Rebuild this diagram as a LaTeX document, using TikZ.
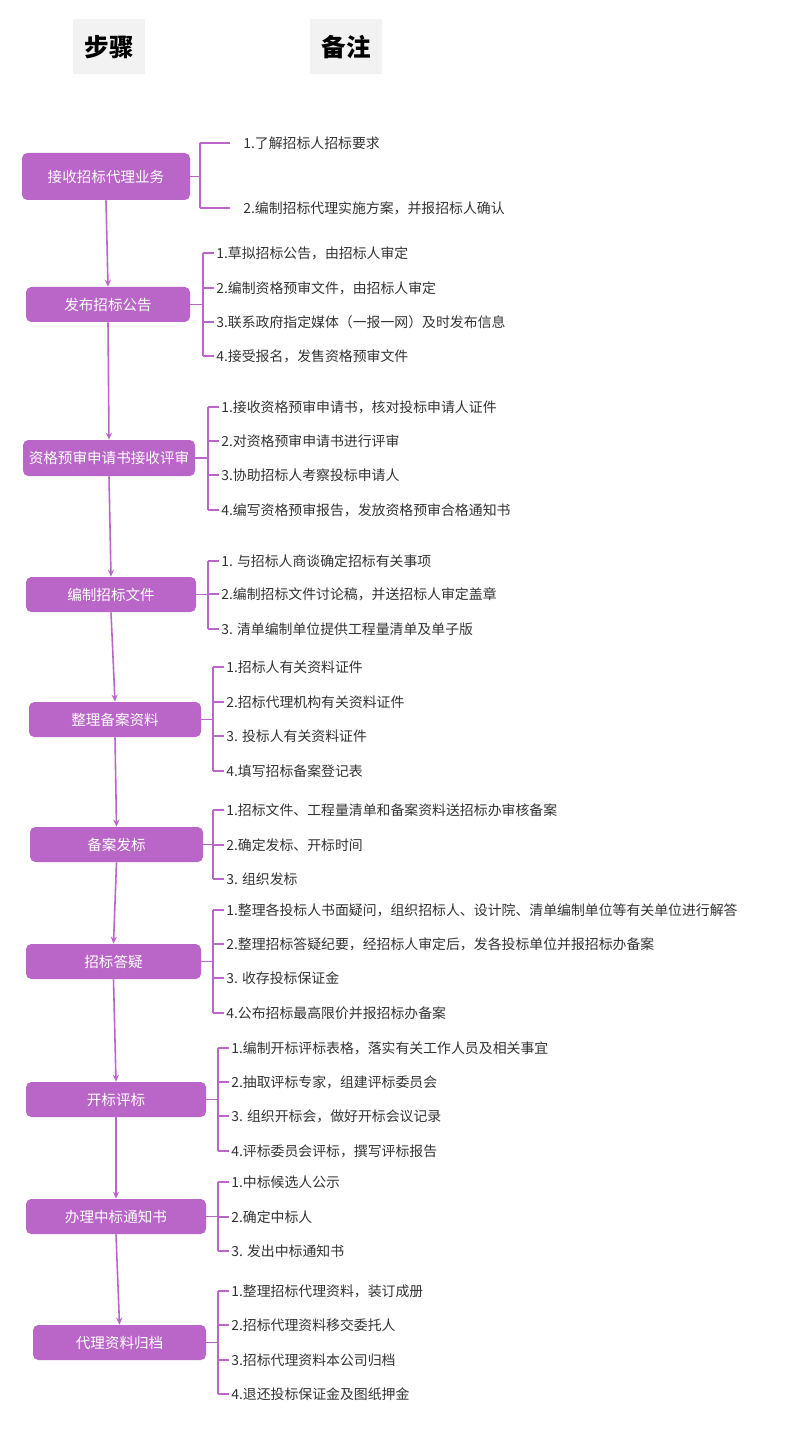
\documentclass[tikz,border=0pt]{standalone}
\usepackage{fontspec}
\setmainfont{Noto Sans CJK SC}
\usetikzlibrary{arrows.meta}
\definecolor{pur}{HTML}{B966C8}
\definecolor{txt}{HTML}{333333}
\newlength\pxu \setlength\pxu{0.02cm}
\tikzset{
 stepbox/.style={fill=pur,rounded corners=3pt,text=white,font=\fontsize{8.3pt}{9pt}\selectfont,inner sep=0pt},
 item/.style={anchor=west,text=txt,font=\fontsize{7.9pt}{9pt}\selectfont,inner sep=0pt},
 brk/.style={draw=pur,line width=1.1pt},
 flow/.style={draw=pur,line width=0.9pt,-{Stealth[length=4pt,width=3.5pt]}},
 head/.style={fill=black!5,font=\bfseries\fontsize{14pt}{16pt}\selectfont,minimum width=72\pxu,minimum height=55\pxu,inner sep=0pt}
}
\newcommand\stepb[6]{\node[stepbox,minimum width=#3\pxu-#2\pxu,minimum height=#5\pxu-#4\pxu] (#1) at ({(#2+#3)/2},{(#4+#5)/2}) {#6};}
\newcommand\grp[6]{\draw[brk] (#1.east) -| (#2,#5) -- (#2,#6);}
\newcommand\itm[6]{\coordinate (#1c) at (#3,#4);
  \node[item] (#1) at (#5,#4) {#6};
  \draw[brk] (#2,#4) -- (#1c);}
\begin{document}
\begin{tikzpicture}[x=0.02cm,y=-0.02cm]
\useasboundingbox (0,0) rectangle (800,1429);
\node[head] (h1) at (109,47) {步骤};
\node[head] (h2) at (346,47) {备注};
\stepb{b1}{22}{190}{153}{200}{接收招标代理业务}
\stepb{b2}{26}{190}{287}{322}{发布招标公告}
\stepb{b3}{23}{195}{440}{476}{资格预审申请书接收评审}
\stepb{b4}{26}{196}{577}{612}{编制招标文件}
\stepb{b5}{29}{201}{702}{737}{整理备案资料}
\stepb{b6}{30}{203}{827}{862}{备案发标}
\stepb{b7}{26}{201}{944}{979}{招标答疑}
\stepb{b8}{26}{206}{1082}{1117}{开标评标}
\stepb{b9}{26}{206}{1199}{1234}{办理中标通知书}
\stepb{b10}{33}{206}{1325}{1360}{代理资料归档}
\foreach \a/\b in {b1/b2,b2/b3,b3/b4,b4/b5,b5/b6,b6/b7,b7/b8,b8/b9,b9/b10}
  \draw[flow] (\a.south) -- (\b.north);
\grp{b1}{200}{}{}{143}{208}
\itm{i11}{200}{230}{143}{243}{1.了解招标人招标要求}
\itm{i12}{200}{230}{208}{243}{2.编制招标代理实施方案，并报招标人确认}
\grp{b2}{203}{}{}{253}{356}
\itm{i21}{203}{214}{253}{216}{1.草拟招标公告，由招标人审定}
\itm{i22}{203}{214}{288}{216}{2.编制资格预审文件，由招标人审定}
\itm{i23}{203}{214}{322}{216}{3.联系政府指定媒体（一报一网）及时发布信息}
\itm{i24}{203}{214}{356}{216}{4.接受报名，发售资格预审文件}
\grp{b3}{208}{}{}{407}{510}
\itm{i31}{208}{219}{407}{221}{1.接收资格预审申请书，核对投标申请人证件}
\itm{i32}{208}{219}{441}{221}{2.对资格预审申请书进行评审}
\itm{i33}{208}{219}{475}{221}{3.协助招标人考察投标申请人}
\itm{i34}{208}{219}{510}{221}{4.编写资格预审报告，发放资格预审合格通知书}
\grp{b4}{208}{}{}{561}{629}
\itm{i41}{208}{219}{561}{221}{1. 与招标人商谈确定招标有关事项}
\itm{i42}{208}{219}{594}{221}{2.编制招标文件讨论稿，并送招标人审定盖章}
\itm{i43}{208}{219}{629}{221}{3. 清单编制单位提供工程量清单及单子版}
\grp{b5}{213}{}{}{667}{771}
\itm{i51}{213}{224}{667}{226}{1.招标人有关资料证件}
\itm{i52}{213}{224}{702}{226}{2.招标代理机构有关资料证件}
\itm{i53}{213}{224}{736}{226}{3. 投标人有关资料证件}
\itm{i54}{213}{224}{771}{226}{4.填写招标备案登记表}
\grp{b6}{213}{}{}{810}{879}
\itm{i61}{213}{224}{810}{226}{1.招标文件、工程量清单和备案资料送招标办审核备案}
\itm{i62}{213}{224}{845}{226}{2.确定发标、开标时间}
\itm{i63}{213}{224}{879}{226}{3. 组织发标}
\grp{b7}{213}{}{}{910}{1013}
\itm{i71}{213}{224}{910}{226}{1.整理各投标人书面疑问，组织招标人、设计院、清单编制单位等有关单位进行解答}
\itm{i72}{213}{224}{944}{226}{2.整理招标答疑纪要，经招标人审定后，发各投标单位并报招标办备案}
\itm{i73}{213}{224}{978}{226}{3.  收存投标保证金}
\itm{i74}{213}{224}{1013}{226}{4.公布招标最高限价并报招标办备案}
\grp{b8}{218}{}{}{1048}{1151}
\itm{i81}{218}{229}{1048}{231}{1.编制开标评标表格，落实有关工作人员及相关事宜}
\itm{i82}{218}{229}{1082}{231}{2.抽取评标专家，组建评标委员会}
\itm{i83}{218}{229}{1116}{231}{3. 组织开标会，做好开标会议记录}
\itm{i84}{218}{229}{1151}{231}{4.评标委员会评标，撰写评标报告}
\grp{b9}{218}{}{}{1182}{1251}
\itm{i91}{218}{229}{1182}{231}{1.中标候选人公示}
\itm{i92}{218}{229}{1217}{231}{2.确定中标人}
\itm{i93}{218}{229}{1251}{231}{3. 发出中标通知书}
\grp{b10}{218}{}{}{1291}{1394}
\itm{j1}{218}{229}{1291}{231}{1.整理招标代理资料，装订成册}
\itm{j2}{218}{229}{1325}{231}{2.招标代理资料移交委托人}
\itm{j3}{218}{229}{1360}{231}{3.招标代理资料本公司归档}
\itm{j4}{218}{229}{1394}{231}{4.退还投标保证金及图纸押金}
\end{tikzpicture}
\end{document}
